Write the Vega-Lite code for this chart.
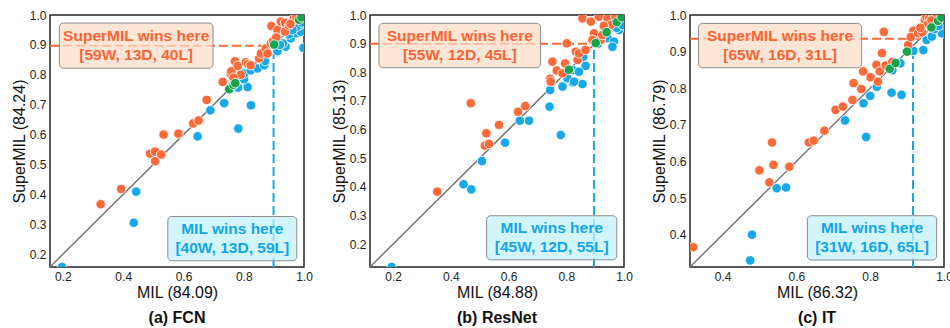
{
  "$schema": "https://vega.github.io/schema/vega-lite/v6.json",
  "padding": {"left": 10, "top": 8, "right": 0, "bottom": 0},
  "background": "white",
  "bounds": "flush",
  "spacing": 66,
  "config": {
    "font": "Liberation Sans",
    "view": {"stroke": "#222222", "strokeWidth": 1.5},
    "axis": {"labelFontSize": 12, "titleFontSize": 16, "titleFontWeight": "normal", "labelColor": "#222222", "titleColor": "#111111", "ticks": false, "domain": false, "grid": false, "labelPadding": 4, "titlePadding": 2, "labelFlush": false, "labelOverlap": false, "format": ".1f"},
    "title": {"fontSize": 16, "fontWeight": "bold", "color": "#111111", "orient": "bottom", "offset": 10}
  },
  "datasets": {
    "one": [{"k": 1}],
    "fcn": [
      {"mil": 0.197, "sup": 0.157, "r": "L"}, {"mil": 0.435, "sup": 0.305, "r": "L"}, {"mil": 0.443, "sup": 0.409, "r": "L"},
      {"mil": 0.647, "sup": 0.594, "r": "L"}, {"mil": 0.689, "sup": 0.681, "r": "L"}, {"mil": 0.735, "sup": 0.705, "r": "L"},
      {"mil": 0.782, "sup": 0.62, "r": "L"}, {"mil": 0.824, "sup": 0.698, "r": "L"}, {"mil": 0.781, "sup": 0.757, "r": "L"},
      {"mil": 0.813, "sup": 0.759, "r": "L"}, {"mil": 0.801, "sup": 0.785, "r": "L"}, {"mil": 0.801, "sup": 0.804, "r": "L"},
      {"mil": 0.823, "sup": 0.815, "r": "L"}, {"mil": 0.846, "sup": 0.821, "r": "L"}, {"mil": 0.868, "sup": 0.832, "r": "L"},
      {"mil": 0.871, "sup": 0.846, "r": "L"}, {"mil": 0.912, "sup": 0.879, "r": "L"}, {"mil": 0.939, "sup": 0.894, "r": "L"},
      {"mil": 0.956, "sup": 0.922, "r": "L"}, {"mil": 0.973, "sup": 0.939, "r": "L"}, {"mil": 0.989, "sup": 0.944, "r": "L"},
      {"mil": 0.998, "sup": 0.89, "r": "L"}, {"mil": 0.985, "sup": 0.965, "r": "L"}, {"mil": 0.93, "sup": 0.905, "r": "L"},
      {"mil": 0.95, "sup": 0.935, "r": "L"}, {"mil": 0.975, "sup": 0.96, "r": "L"}, {"mil": 0.992, "sup": 0.975, "r": "L"},
      {"mil": 0.92, "sup": 0.9, "r": "L"}, {"mil": 0.962, "sup": 0.95, "r": "L"},
      {"mil": 0.325, "sup": 0.367, "r": "W"}, {"mil": 0.393, "sup": 0.418, "r": "W"}, {"mil": 0.489, "sup": 0.536, "r": "W"},
      {"mil": 0.506, "sup": 0.543, "r": "W"}, {"mil": 0.526, "sup": 0.533, "r": "W"}, {"mil": 0.506, "sup": 0.511, "r": "W"},
      {"mil": 0.534, "sup": 0.6, "r": "W"}, {"mil": 0.583, "sup": 0.603, "r": "W"}, {"mil": 0.632, "sup": 0.637, "r": "W"},
      {"mil": 0.65, "sup": 0.647, "r": "W"}, {"mil": 0.677, "sup": 0.716, "r": "W"}, {"mil": 0.73, "sup": 0.776, "r": "W"},
      {"mil": 0.757, "sup": 0.803, "r": "W"}, {"mil": 0.759, "sup": 0.812, "r": "W"}, {"mil": 0.771, "sup": 0.845, "r": "W"},
      {"mil": 0.78, "sup": 0.83, "r": "W"}, {"mil": 0.79, "sup": 0.8, "r": "W"}, {"mil": 0.807, "sup": 0.842, "r": "W"},
      {"mil": 0.814, "sup": 0.836, "r": "W"}, {"mil": 0.823, "sup": 0.832, "r": "W"}, {"mil": 0.766, "sup": 0.79, "r": "W"},
      {"mil": 0.851, "sup": 0.855, "r": "W"}, {"mil": 0.857, "sup": 0.871, "r": "W"}, {"mil": 0.873, "sup": 0.888, "r": "W"},
      {"mil": 0.879, "sup": 0.871, "r": "W"}, {"mil": 0.89, "sup": 0.905, "r": "W"}, {"mil": 0.897, "sup": 0.912, "r": "W"},
      {"mil": 0.892, "sup": 0.963, "r": "W"}, {"mil": 0.912, "sup": 0.95, "r": "W"}, {"mil": 0.923, "sup": 0.978, "r": "W"},
      {"mil": 0.937, "sup": 0.974, "r": "W"}, {"mil": 0.937, "sup": 0.944, "r": "W"}, {"mil": 0.95, "sup": 0.965, "r": "W"},
      {"mil": 0.96, "sup": 0.978, "r": "W"}, {"mil": 0.966, "sup": 0.988, "r": "W"}, {"mil": 0.975, "sup": 0.992, "r": "W"},
      {"mil": 0.955, "sup": 0.97, "r": "W"}, {"mil": 0.908, "sup": 0.925, "r": "W"},
      {"mil": 0.752, "sup": 0.752, "r": "D"}, {"mil": 0.766, "sup": 0.766, "r": "D"}, {"mil": 0.772, "sup": 0.772, "r": "D"},
      {"mil": 0.901, "sup": 0.901, "r": "D"}, {"mil": 0.984, "sup": 0.984, "r": "D"}, {"mil": 0.992, "sup": 0.992, "r": "D"}
    ],
    "resnet": [
      {"mil": 0.195, "sup": 0.12, "r": "L"}, {"mil": 0.444, "sup": 0.409, "r": "L"}, {"mil": 0.471, "sup": 0.391, "r": "L"},
      {"mil": 0.508, "sup": 0.49, "r": "L"}, {"mil": 0.588, "sup": 0.554, "r": "L"}, {"mil": 0.639, "sup": 0.631, "r": "L"},
      {"mil": 0.671, "sup": 0.631, "r": "L"}, {"mil": 0.742, "sup": 0.68, "r": "L"}, {"mil": 0.744, "sup": 0.738, "r": "L"},
      {"mil": 0.781, "sup": 0.581, "r": "L"}, {"mil": 0.787, "sup": 0.75, "r": "L"}, {"mil": 0.823, "sup": 0.764, "r": "L"},
      {"mil": 0.856, "sup": 0.759, "r": "L"}, {"mil": 0.867, "sup": 0.822, "r": "L"}, {"mil": 0.859, "sup": 0.854, "r": "L"},
      {"mil": 0.821, "sup": 0.808, "r": "L"}, {"mil": 0.844, "sup": 0.802, "r": "L"}, {"mil": 0.804, "sup": 0.779, "r": "L"},
      {"mil": 0.827, "sup": 0.767, "r": "L"}, {"mil": 0.91, "sup": 0.9, "r": "L"}, {"mil": 0.943, "sup": 0.919, "r": "L"},
      {"mil": 0.965, "sup": 0.907, "r": "L"}, {"mil": 0.96, "sup": 0.889, "r": "L"}, {"mil": 0.983, "sup": 0.948, "r": "L"},
      {"mil": 0.989, "sup": 0.977, "r": "L"}, {"mil": 0.975, "sup": 0.955, "r": "L"}, {"mil": 0.995, "sup": 0.965, "r": "L"},
      {"mil": 0.353, "sup": 0.383, "r": "W"}, {"mil": 0.469, "sup": 0.692, "r": "W"}, {"mil": 0.518, "sup": 0.544, "r": "W"},
      {"mil": 0.532, "sup": 0.55, "r": "W"}, {"mil": 0.523, "sup": 0.587, "r": "W"}, {"mil": 0.567, "sup": 0.616, "r": "W"},
      {"mil": 0.633, "sup": 0.662, "r": "W"}, {"mil": 0.658, "sup": 0.682, "r": "W"}, {"mil": 0.744, "sup": 0.777, "r": "W"},
      {"mil": 0.746, "sup": 0.767, "r": "W"}, {"mil": 0.752, "sup": 0.837, "r": "W"}, {"mil": 0.767, "sup": 0.806, "r": "W"},
      {"mil": 0.787, "sup": 0.796, "r": "W"}, {"mil": 0.796, "sup": 0.831, "r": "W"}, {"mil": 0.802, "sup": 0.901, "r": "W"},
      {"mil": 0.833, "sup": 0.872, "r": "W"}, {"mil": 0.839, "sup": 0.843, "r": "W"}, {"mil": 0.844, "sup": 0.866, "r": "W"},
      {"mil": 0.867, "sup": 0.878, "r": "W"}, {"mil": 0.856, "sup": 0.988, "r": "W"}, {"mil": 0.885, "sup": 0.977, "r": "W"},
      {"mil": 0.896, "sup": 0.936, "r": "W"}, {"mil": 0.891, "sup": 0.913, "r": "W"}, {"mil": 0.913, "sup": 0.994, "r": "W"},
      {"mil": 0.919, "sup": 0.913, "r": "W"}, {"mil": 0.937, "sup": 0.948, "r": "W"}, {"mil": 0.925, "sup": 0.93, "r": "W"},
      {"mil": 0.943, "sup": 0.988, "r": "W"}, {"mil": 0.954, "sup": 0.965, "r": "W"}, {"mil": 0.97, "sup": 0.995, "r": "W"},
      {"mil": 0.93, "sup": 0.962, "r": "W"},
      {"mil": 0.809, "sup": 0.809, "r": "D"}, {"mil": 0.902, "sup": 0.902, "r": "D"}, {"mil": 0.94, "sup": 0.94, "r": "D"},
      {"mil": 0.975, "sup": 0.975, "r": "D"}, {"mil": 0.992, "sup": 0.992, "r": "D"}
    ],
    "it": [
      {"mil": 0.475, "sup": 0.33, "r": "L"}, {"mil": 0.48, "sup": 0.4, "r": "L"}, {"mil": 0.547, "sup": 0.527, "r": "L"},
      {"mil": 0.572, "sup": 0.529, "r": "L"}, {"mil": 0.732, "sup": 0.712, "r": "L"}, {"mil": 0.789, "sup": 0.667, "r": "L"},
      {"mil": 0.782, "sup": 0.759, "r": "L"}, {"mil": 0.8, "sup": 0.779, "r": "L"}, {"mil": 0.818, "sup": 0.804, "r": "L"},
      {"mil": 0.858, "sup": 0.788, "r": "L"}, {"mil": 0.885, "sup": 0.782, "r": "L"}, {"mil": 0.882, "sup": 0.868, "r": "L"},
      {"mil": 0.86, "sup": 0.849, "r": "L"}, {"mil": 0.917, "sup": 0.902, "r": "L"}, {"mil": 0.944, "sup": 0.904, "r": "L"},
      {"mil": 0.953, "sup": 0.932, "r": "L"}, {"mil": 0.967, "sup": 0.941, "r": "L"}, {"mil": 0.994, "sup": 0.95, "r": "L"},
      {"mil": 0.975, "sup": 0.962, "r": "L"}, {"mil": 0.985, "sup": 0.97, "r": "L"},
      {"mil": 0.321, "sup": 0.366, "r": "W"}, {"mil": 0.5, "sup": 0.576, "r": "W"}, {"mil": 0.527, "sup": 0.543, "r": "W"},
      {"mil": 0.538, "sup": 0.591, "r": "W"}, {"mil": 0.581, "sup": 0.586, "r": "W"}, {"mil": 0.534, "sup": 0.652, "r": "W"},
      {"mil": 0.634, "sup": 0.652, "r": "W"}, {"mil": 0.647, "sup": 0.657, "r": "W"}, {"mil": 0.676, "sup": 0.684, "r": "W"},
      {"mil": 0.706, "sup": 0.741, "r": "W"}, {"mil": 0.726, "sup": 0.75, "r": "W"}, {"mil": 0.752, "sup": 0.768, "r": "W"},
      {"mil": 0.755, "sup": 0.814, "r": "W"}, {"mil": 0.776, "sup": 0.798, "r": "W"}, {"mil": 0.781, "sup": 0.846, "r": "W"},
      {"mil": 0.801, "sup": 0.83, "r": "W"}, {"mil": 0.817, "sup": 0.864, "r": "W"}, {"mil": 0.821, "sup": 0.818, "r": "W"},
      {"mil": 0.826, "sup": 0.846, "r": "W"}, {"mil": 0.832, "sup": 0.896, "r": "W"}, {"mil": 0.837, "sup": 0.954, "r": "W"},
      {"mil": 0.842, "sup": 0.862, "r": "W"}, {"mil": 0.86, "sup": 0.872, "r": "W"}, {"mil": 0.903, "sup": 0.918, "r": "W"},
      {"mil": 0.917, "sup": 0.957, "r": "W"}, {"mil": 0.91, "sup": 0.94, "r": "W"}, {"mil": 0.93, "sup": 0.95, "r": "W"},
      {"mil": 0.941, "sup": 0.953, "r": "W"}, {"mil": 0.948, "sup": 0.986, "r": "W"}, {"mil": 0.952, "sup": 0.995, "r": "W"},
      {"mil": 0.96, "sup": 0.99, "r": "W"}, {"mil": 0.97, "sup": 0.995, "r": "W"}, {"mil": 0.98, "sup": 0.998, "r": "W"},
      {"mil": 0.956, "sup": 0.975, "r": "W"}, {"mil": 0.966, "sup": 0.985, "r": "W"}, {"mil": 0.936, "sup": 0.965, "r": "W"},
      {"mil": 0.853, "sup": 0.853, "r": "D"}, {"mil": 0.869, "sup": 0.869, "r": "D"}, {"mil": 0.9, "sup": 0.9, "r": "D"},
      {"mil": 0.966, "sup": 0.966, "r": "D"}, {"mil": 0.984, "sup": 0.984, "r": "D"}, {"mil": 0.993, "sup": 0.993, "r": "D"}
    ]
  },
  "hconcat": [
    {
      "width": 254, "height": 252,
      "title": {"text": "(a) FCN"},
      "layer": [
        {"data": {"name": "one"}, "mark": {"type": "rule", "color": "#777777", "strokeWidth": 1.5},
         "encoding": {
           "x": {"datum": 0.157, "type": "quantitative", "scale": {"domain": [0.157, 1], "nice": false, "zero": false}, "axis": {"title": "MIL (84.09)", "values": [0.2, 0.4, 0.6, 0.8, 1.0], "labelOverlap": false}},
           "y": {"datum": 0.157, "type": "quantitative", "scale": {"domain": [0.157, 1], "nice": false, "zero": false}, "axis": {"title": "SuperMIL (84.24)", "values": [0.2, 0.3, 0.4, 0.5, 0.6, 0.7, 0.8, 0.9, 1.0], "labelOverlap": false, "tickCount": 9}},
           "x2": {"datum": 1}, "y2": {"datum": 1}}},
        {"data": {"name": "one"}, "mark": {"type": "rule", "color": "#fd6a3a", "strokeWidth": 2, "strokeDash": [9, 4]},
         "encoding": {"x": {"datum": 0.157}, "x2": {"datum": 0.897}, "y": {"datum": 0.897}}},
        {"data": {"name": "one"}, "mark": {"type": "rule", "color": "#17a8ea", "strokeWidth": 2, "strokeDash": [9, 4]},
         "encoding": {"x": {"datum": 0.899}, "y": {"datum": 0.157}, "y2": {"datum": 0.899}}},
        {"data": {"name": "fcn"},
         "mark": {"type": "circle", "size": 90, "opacity": 1, "stroke": "white", "strokeWidth": 0.8, "clip": true},
         "encoding": {
           "x": {"field": "mil", "type": "quantitative", "scale": {"domain": [0.157, 1], "nice": false, "zero": false}, "axis": {"title": "MIL (84.09)", "values": [0.2, 0.4, 0.6, 0.8, 1.0], "labelOverlap": false}},
           "y": {"field": "sup", "type": "quantitative", "scale": {"domain": [0.157, 1], "nice": false, "zero": false}, "axis": {"title": "SuperMIL (84.24)", "values": [0.2, 0.3, 0.4, 0.5, 0.6, 0.7, 0.8, 0.9, 1.0], "labelOverlap": false, "tickCount": 9}},
           "color": {"field": "r", "type": "nominal", "scale": {"domain": ["W", "L", "D"], "range": ["#fd6a3a", "#17a8ea", "#18a44c"]}, "legend": null}
         }},
        {"data": {"name": "one"}, "mark": {"type": "rect", "fill": "#fcdec7", "fillOpacity": 0.75, "stroke": "#8c8c8c", "strokeWidth": 1, "cornerRadius": 4},
         "encoding": {"x": {"datum": 0.188}, "x2": {"datum": 0.698}, "y": {"datum": 0.973}, "y2": {"datum": 0.822}}},
        {"data": {"name": "one"}, "mark": {"type": "text", "color": "#fb6535", "fontSize": 15.5, "fontWeight": "bold", "lineBreak": "\n", "lineHeight": 19, "align": "center", "baseline": "middle", "dy": -9.5},
         "encoding": {"x": {"datum": 0.443}, "y": {"datum": 0.898}, "text": {"value": "SuperMIL wins here\n[59W, 13D, 40L]"}}},
        {"data": {"name": "one"}, "mark": {"type": "rect", "fill": "#c3f2fa", "fillOpacity": 0.75, "stroke": "#8c8c8c", "strokeWidth": 1, "cornerRadius": 4},
         "encoding": {"x": {"datum": 0.548}, "x2": {"datum": 0.976}, "y": {"datum": 0.326}, "y2": {"datum": 0.178}}},
        {"data": {"name": "one"}, "mark": {"type": "text", "color": "#12a6ea", "fontSize": 15.5, "fontWeight": "bold", "lineBreak": "\n", "lineHeight": 19, "align": "center", "baseline": "middle", "dy": -9.5},
         "encoding": {"x": {"datum": 0.762}, "y": {"datum": 0.252}, "text": {"value": "MIL wins here\n[40W, 13D, 59L]"}}}
      ]
    },
    {
      "width": 254, "height": 252,
      "title": {"text": "(b) ResNet"},
      "layer": [
        {"data": {"name": "one"}, "mark": {"type": "rule", "color": "#777777", "strokeWidth": 1.5},
         "encoding": {
           "x": {"datum": 0.12, "type": "quantitative", "scale": {"domain": [0.12, 1], "nice": false, "zero": false}, "axis": {"title": "MIL (84.88)", "values": [0.2, 0.4, 0.6, 0.8, 1.0], "labelOverlap": false}},
           "y": {"datum": 0.12, "type": "quantitative", "scale": {"domain": [0.12, 1], "nice": false, "zero": false}, "axis": {"title": "SuperMIL (85.13)", "values": [0.2, 0.3, 0.4, 0.5, 0.6, 0.7, 0.8, 0.9, 1.0], "labelOverlap": false, "tickCount": 9}},
           "x2": {"datum": 1}, "y2": {"datum": 1}}},
        {"data": {"name": "one"}, "mark": {"type": "rule", "color": "#fd6a3a", "strokeWidth": 2, "strokeDash": [9, 4]},
         "encoding": {"x": {"datum": 0.12}, "x2": {"datum": 0.9}, "y": {"datum": 0.9}}},
        {"data": {"name": "one"}, "mark": {"type": "rule", "color": "#17a8ea", "strokeWidth": 2, "strokeDash": [9, 4]},
         "encoding": {"x": {"datum": 0.896}, "y": {"datum": 0.12}, "y2": {"datum": 0.896}}},
        {"data": {"name": "resnet"},
         "mark": {"type": "circle", "size": 90, "opacity": 1, "stroke": "white", "strokeWidth": 0.8, "clip": true},
         "encoding": {
           "x": {"field": "mil", "type": "quantitative", "scale": {"domain": [0.12, 1], "nice": false, "zero": false}, "axis": {"title": "MIL (84.88)", "values": [0.2, 0.4, 0.6, 0.8, 1.0], "labelOverlap": false}},
           "y": {"field": "sup", "type": "quantitative", "scale": {"domain": [0.12, 1], "nice": false, "zero": false}, "axis": {"title": "SuperMIL (85.13)", "values": [0.2, 0.3, 0.4, 0.5, 0.6, 0.7, 0.8, 0.9, 1.0], "labelOverlap": false, "tickCount": 9}},
           "color": {"field": "r", "type": "nominal", "scale": {"domain": ["W", "L", "D"], "range": ["#fd6a3a", "#17a8ea", "#18a44c"]}, "legend": null}
         }},
        {"data": {"name": "one"}, "mark": {"type": "rect", "fill": "#fcdec7", "fillOpacity": 0.75, "stroke": "#8c8c8c", "strokeWidth": 1, "cornerRadius": 4},
         "encoding": {"x": {"datum": 0.151}, "x2": {"datum": 0.711}, "y": {"datum": 0.971}, "y2": {"datum": 0.816}}},
        {"data": {"name": "one"}, "mark": {"type": "text", "color": "#fb6535", "fontSize": 15.5, "fontWeight": "bold", "lineBreak": "\n", "lineHeight": 19, "align": "center", "baseline": "middle", "dy": -9.5},
         "encoding": {"x": {"datum": 0.431}, "y": {"datum": 0.8935}, "text": {"value": "SuperMIL wins here\n[55W, 12D, 45L]"}}},
        {"data": {"name": "one"}, "mark": {"type": "rect", "fill": "#c3f2fa", "fillOpacity": 0.75, "stroke": "#8c8c8c", "strokeWidth": 1, "cornerRadius": 4},
         "encoding": {"x": {"datum": 0.524}, "x2": {"datum": 0.975}, "y": {"datum": 0.299}, "y2": {"datum": 0.145}}},
        {"data": {"name": "one"}, "mark": {"type": "text", "color": "#12a6ea", "fontSize": 15.5, "fontWeight": "bold", "lineBreak": "\n", "lineHeight": 19, "align": "center", "baseline": "middle", "dy": -9.5},
         "encoding": {"x": {"datum": 0.7495}, "y": {"datum": 0.222}, "text": {"value": "MIL wins here\n[45W, 12D, 55L]"}}}
      ]
    },
    {
      "width": 254, "height": 252,
      "title": {"text": "(c) IT"},
      "layer": [
        {"data": {"name": "one"}, "mark": {"type": "rule", "color": "#777777", "strokeWidth": 1.5},
         "encoding": {
           "x": {"datum": 0.312, "type": "quantitative", "scale": {"domain": [0.312, 1], "nice": false, "zero": false}, "axis": {"title": "MIL (86.32)", "values": [0.4, 0.6, 0.8, 1.0], "labelOverlap": false}},
           "y": {"datum": 0.312, "type": "quantitative", "scale": {"domain": [0.312, 1], "nice": false, "zero": false}, "axis": {"title": "SuperMIL (86.79)", "values": [0.4, 0.5, 0.6, 0.7, 0.8, 0.9, 1.0], "labelOverlap": false, "tickCount": 7}},
           "x2": {"datum": 1}, "y2": {"datum": 1}}},
        {"data": {"name": "one"}, "mark": {"type": "rule", "color": "#fd6a3a", "strokeWidth": 2, "strokeDash": [9, 4]},
         "encoding": {"x": {"datum": 0.312}, "x2": {"datum": 0.935}, "y": {"datum": 0.935}}},
        {"data": {"name": "one"}, "mark": {"type": "rule", "color": "#17a8ea", "strokeWidth": 2, "strokeDash": [9, 4]},
         "encoding": {"x": {"datum": 0.916}, "y": {"datum": 0.312}, "y2": {"datum": 0.916}}},
        {"data": {"name": "it"},
         "mark": {"type": "circle", "size": 90, "opacity": 1, "stroke": "white", "strokeWidth": 0.8, "clip": true},
         "encoding": {
           "x": {"field": "mil", "type": "quantitative", "scale": {"domain": [0.312, 1], "nice": false, "zero": false}, "axis": {"title": "MIL (86.32)", "values": [0.4, 0.6, 0.8, 1.0], "labelOverlap": false}},
           "y": {"field": "sup", "type": "quantitative", "scale": {"domain": [0.312, 1], "nice": false, "zero": false}, "axis": {"title": "SuperMIL (86.79)", "values": [0.4, 0.5, 0.6, 0.7, 0.8, 0.9, 1.0], "labelOverlap": false, "tickCount": 7}},
           "color": {"field": "r", "type": "nominal", "scale": {"domain": ["W", "L", "D"], "range": ["#fd6a3a", "#17a8ea", "#18a44c"]}, "legend": null}
         }},
        {"data": {"name": "one"}, "mark": {"type": "rect", "fill": "#fcdec7", "fillOpacity": 0.75, "stroke": "#8c8c8c", "strokeWidth": 1, "cornerRadius": 4},
         "encoding": {"x": {"datum": 0.335}, "x2": {"datum": 0.777}, "y": {"datum": 0.977}, "y2": {"datum": 0.856}}},
        {"data": {"name": "one"}, "mark": {"type": "text", "color": "#fb6535", "fontSize": 15.5, "fontWeight": "bold", "lineBreak": "\n", "lineHeight": 19, "align": "center", "baseline": "middle", "dy": -9.5},
         "encoding": {"x": {"datum": 0.556}, "y": {"datum": 0.9165}, "text": {"value": "SuperMIL wins here\n[65W, 16D, 31L]"}}},
        {"data": {"name": "one"}, "mark": {"type": "rect", "fill": "#c3f2fa", "fillOpacity": 0.75, "stroke": "#8c8c8c", "strokeWidth": 1, "cornerRadius": 4},
         "encoding": {"x": {"datum": 0.63}, "x2": {"datum": 0.98}, "y": {"datum": 0.452}, "y2": {"datum": 0.331}}},
        {"data": {"name": "one"}, "mark": {"type": "text", "color": "#12a6ea", "fontSize": 15.5, "fontWeight": "bold", "lineBreak": "\n", "lineHeight": 19, "align": "center", "baseline": "middle", "dy": -9.5},
         "encoding": {"x": {"datum": 0.805}, "y": {"datum": 0.3915}, "text": {"value": "MIL wins here\n[31W, 16D, 65L]"}}}
      ]
    }
  ]
}
